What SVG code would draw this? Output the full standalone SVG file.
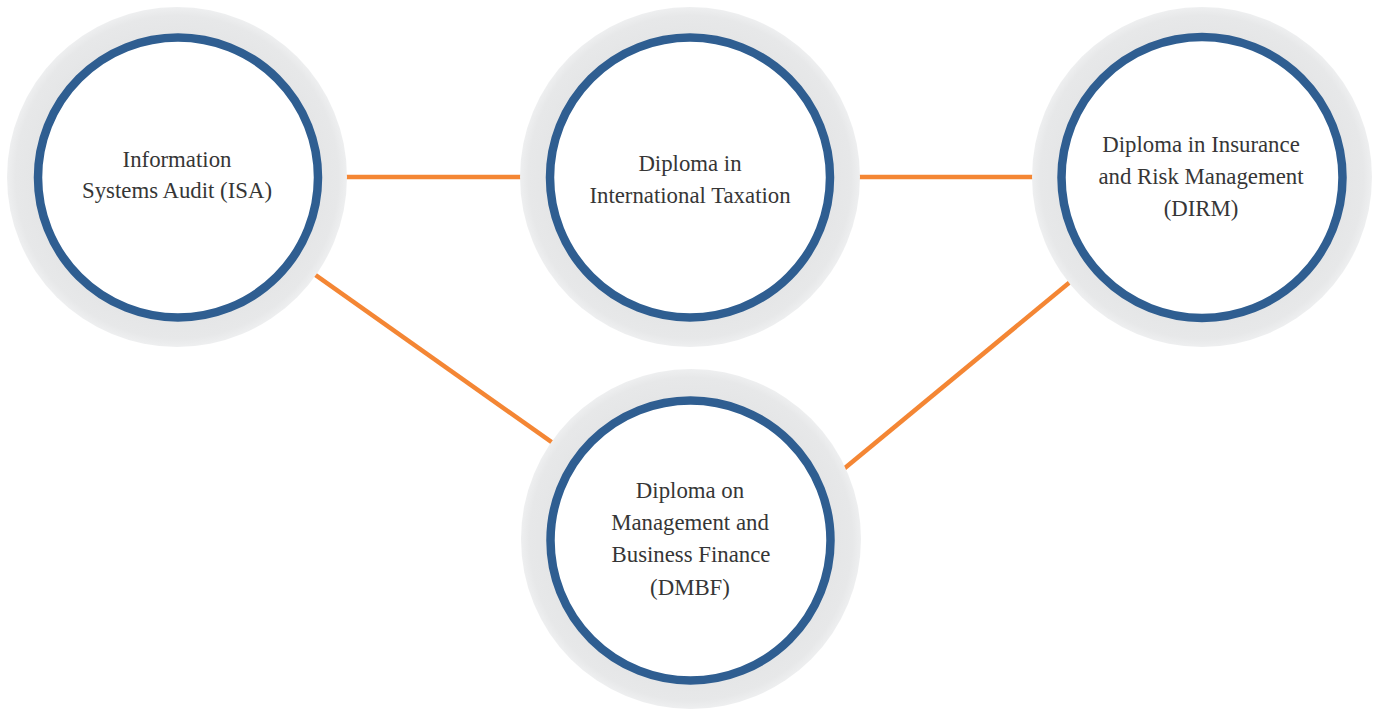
<svg xmlns="http://www.w3.org/2000/svg" width="1381" height="711" viewBox="0 0 1381 711">
<defs>
<radialGradient id="halo" cx="0.5" cy="0.5" r="0.5">
<stop offset="0.8" stop-color="#e4e5e6"/>
<stop offset="0.95" stop-color="#e7e8e9"/>
<stop offset="1" stop-color="#eeeff0"/>
</radialGradient>
<style>
.halo{fill:url(#halo);}
.ring{fill:#ffffff;stroke:#2f5e91;stroke-width:8.5;}
.lbl{font-family:"Liberation Serif","Times New Roman",serif;font-size:22.8px;fill:#363636;text-anchor:middle;}
.edge{stroke:#f48634;stroke-width:4.5;fill:none;}
</style>
</defs>
<rect width="1381" height="711" fill="#ffffff"/>
<g id="connectors">
<line class="edge" x1="177" y1="177" x2="690" y2="177"/>
<line class="edge" x1="690" y1="177" x2="1202" y2="177"/>
<line class="edge" x1="177" y1="177" x2="690" y2="540"/>
<line class="edge" x1="1202" y1="173" x2="690" y2="596"/>
</g>
<g id="node-isa">
<circle class="halo" cx="177" cy="177" r="170"/>
<circle class="ring" cx="178" cy="177.5" r="140"/>
<text class="lbl" x="177" y="167">Information</text>
<text class="lbl" x="177" y="198">Systems Audit (ISA)</text>
</g>
<g id="node-dit">
<circle class="halo" cx="690" cy="177" r="170"/>
<circle class="ring" cx="690" cy="177.5" r="140"/>
<text class="lbl" x="690" y="171">Diploma in</text>
<text class="lbl" x="690" y="203">International Taxation</text>
</g>
<g id="node-dirm">
<circle class="halo" cx="1202" cy="177" r="170"/>
<circle class="ring" cx="1202" cy="177.5" r="140.5"/>
<text class="lbl" x="1201" y="152">Diploma in Insurance</text>
<text class="lbl" x="1201" y="184">and Risk Management</text>
<text class="lbl" x="1201" y="216">(DIRM)</text>
</g>
<g id="node-dmbf">
<circle class="halo" cx="691" cy="539" r="170"/>
<circle class="ring" cx="690.5" cy="540.5" r="140"/>
<text class="lbl" x="690" y="498">Diploma on</text>
<text class="lbl" x="690" y="530">Management and</text>
<text class="lbl" x="691" y="562">Business Finance</text>
<text class="lbl" x="690" y="595">(DMBF)</text>
</g>
</svg>
